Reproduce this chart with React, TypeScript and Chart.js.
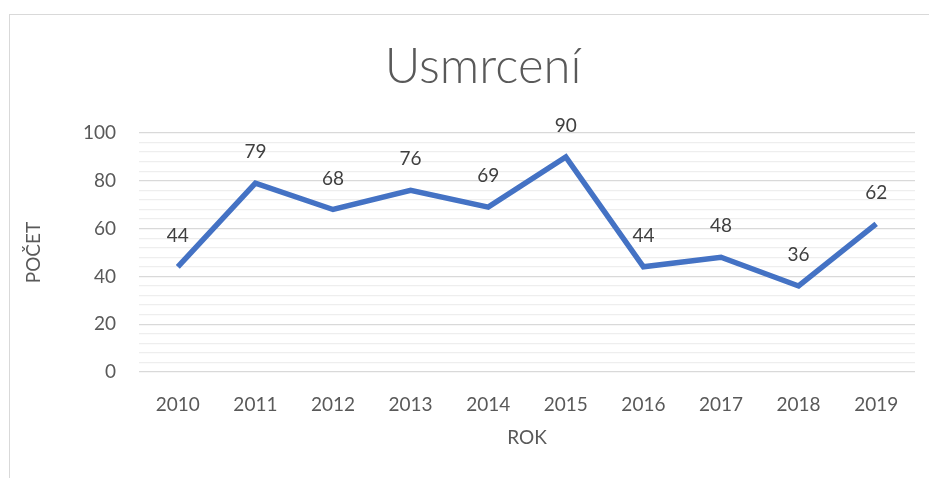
import React, { useEffect, useRef } from "react";
import { Chart, registerables } from "chart.js";

Chart.register(...registerables);

const years = ["2010", "2011", "2012", "2013", "2014", "2015", "2016", "2017", "2018", "2019"];
const deaths = [44, 79, 68, 76, 69, 90, 44, 48, 36, 62];
const titleText = "Usmrcení";
const yTitle = "POČET";
const xTitle = "ROK";

const FONT = "Lato, 'Open Sans', sans-serif";

const dataLabelPlugin = {
  id: "dataLabels",
  afterDatasetsDraw(chart: any) {
    const ctx = chart.ctx;
    const meta = chart.getDatasetMeta(0);
    ctx.save();
    ctx.font = `19px ${FONT}`;
    ctx.fillStyle = "#404040";
    ctx.textAlign = "center";
    ctx.textBaseline = "middle";
    meta.data.forEach((pt: any, i: number) => {
      ctx.fillText(String(deaths[i]), pt.x, pt.y - 31);
    });
    ctx.restore();
  },
};

const titlePlugin = {
  id: "frameTitle",
  afterDraw(chart: any) {
    const ctx = chart.ctx;
    ctx.save();
    ctx.font = `300 49px ${FONT}`;
    ctx.fillStyle = "#595959";
    ctx.textAlign = "center";
    ctx.textBaseline = "alphabetic";
    ctx.fillText(titleText, 483, 83);
    ctx.restore();
  },
};

export default function App() {
  const ref = useRef<HTMLCanvasElement>(null);
  useEffect(() => {
    const chart = new Chart(ref.current!, {
      type: "line",
      data: {
        labels: years,
        datasets: [
          {
            data: deaths,
            borderColor: "#4472C4",
            borderWidth: 5.5,
            pointRadius: 0,
            pointHoverRadius: 0,
            tension: 0,
            fill: false,
          },
        ],
      },
      options: {
        responsive: false,
        animation: false,
        events: [],
        layout: { padding: { left: 22, right: 14, top: 133, bottom: 0 } },
        plugins: {
          legend: { display: false },
          tooltip: { enabled: false },
          title: { display: false },
        },
        scales: {
          x: {
            offset: true,
            grid: { display: false, drawTicks: false },
            border: { display: false },
            ticks: {
              color: "#595959",
              font: { family: FONT, size: 19 },
              padding: 21,
              maxRotation: 0,
            },
            title: {
              display: true,
              text: xTitle,
              color: "#595959",
              font: { family: FONT, size: 19 },
              padding: { top: 0, bottom: 29 },
            },
            afterFit(scale: any) {
              scale.height = 106;
            },
          },
          y: {
            min: 0,
            max: 100,
            grid: {
              drawTicks: false,
              color: (c: any) => (c.tick && c.tick.value % 20 === 0 ? "#d9d9d9" : "#eeeeee"),
              lineWidth: 1.3,
            },
            border: { display: false },
            ticks: {
              stepSize: 4,
              autoSkip: false,
              color: "#595959",
              font: { family: FONT, size: 19 },
              padding: 23,
              callback: (v: any) => (v % 20 === 0 ? String(v) : ""),
            },
            title: {
              display: true,
              text: yTitle,
              color: "#595959",
              font: { family: FONT, size: 19 },
              padding: { top: 0, bottom: 0 },
            },
            afterFit(scale: any) {
              scale.width = 117;
            },
          },
        },
      },
      plugins: [dataLabelPlugin, titlePlugin],
    });
    return () => chart.destroy();
  }, []);

  return (
    <div style={{ position: "fixed", left: 0, top: 0, width: 929, height: 478, background: "#fff", overflow: "hidden" }}>
      <div
        style={{
          position: "absolute",
          left: 9,
          top: 14,
          width: 1000,
          height: 600,
          border: "1.5px solid #d9d9d9",
          boxSizing: "border-box",
        }}
      />
      <canvas ref={ref} width={929} height={478} style={{ position: "absolute", left: 0, top: 0, display: "block" }} />
    </div>
  );
}
